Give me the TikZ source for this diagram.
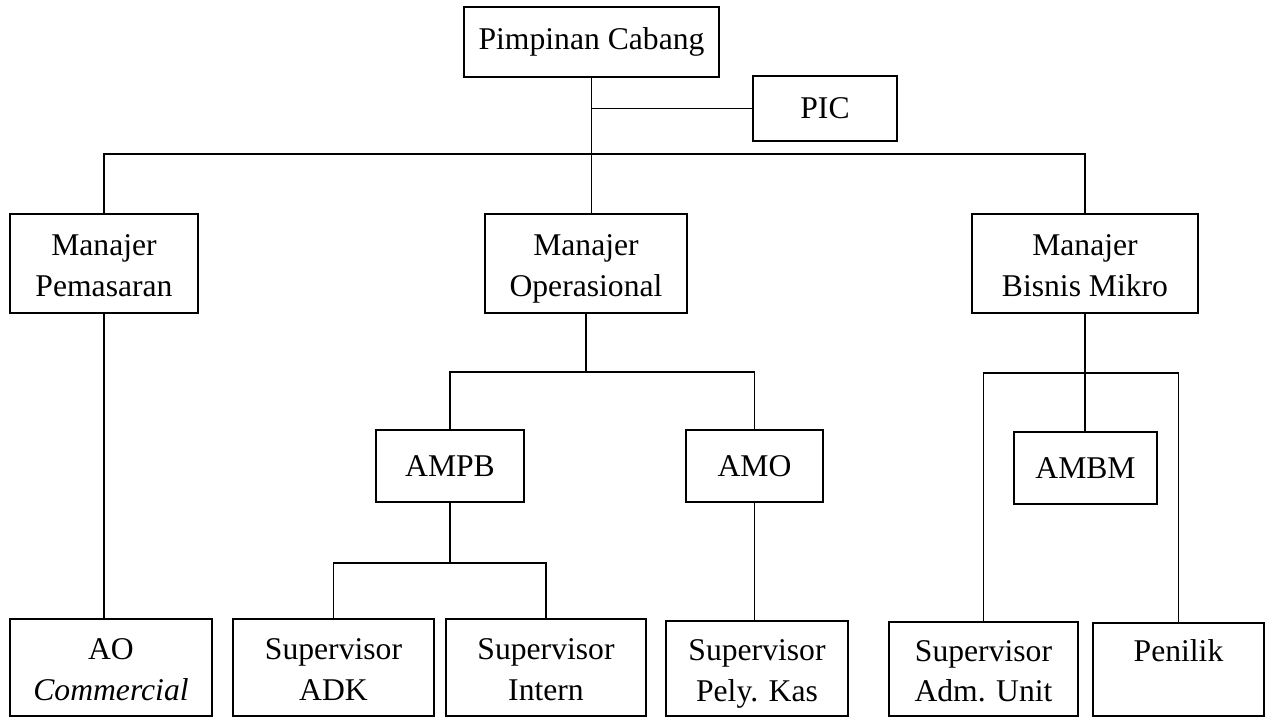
\documentclass[tikz,border=0pt]{standalone}
\usepackage{fontspec}
\setmainfont{Liberation Serif}
\newcommand{\duo}[2]{\rule{0pt}{21pt}#1\\#2\strut}
\tikzset{
  unit/.style={draw, line width=1pt, align=center, inner sep=0pt, font=\fontsize{18}{23}\selectfont},
  link/.style={line width=0.8pt}
}
\begin{document}
\begin{tikzpicture}[x=0.2mm, y=-0.2mm]
	\useasboundingbox (0,0) rectangle (1266,718);
	%%%%% BOXES %%%%%
	\node[unit, minimum width=5.1cm, minimum height=1.4cm] (pc) at (591.5,42) {Pimpinan Cabang};
	\node[unit, minimum width=2.88cm, minimum height=1.3cm] (pic) at (825,108.5) {PIC};
	
	\node[unit, minimum width=3.76cm, minimum height=1.98cm] (mp) at (104,263.5) {\duo{Manajer}{Pemasaran}};
	\node[unit, minimum width=4.04cm, minimum height=1.98cm] (mo) at (586,263.5) {\duo{Manajer}{Operasional}};
	\node[unit, minimum width=4.52cm, minimum height=1.98cm] (mbm) at (1085,263.5) {\duo{Manajer}{Bisnis Mikro}};
	
	\node[unit, minimum width=2.96cm, minimum height=1.44cm] (ampb) at (450,466) {AMPB};
	\node[unit, minimum width=2.74cm, minimum height=1.44cm] (amo) at (754.5,466) {AMO};
	\node[unit, minimum width=2.86cm, minimum height=1.44cm] (ambm) at (1085.5,468) {AMBM};
	
	\node[unit, minimum width=4.04cm, minimum height=1.94cm] (ao) at (111,667.5) {\duo{AO}{\textit{Commercial}}};
	\node[unit, minimum width=4.02cm, minimum height=1.94cm] (adk) at (333.5,667.5) {\duo{Supervisor}{ADK}};
	\node[unit, minimum width=4.0cm, minimum height=1.94cm] (intern) at (546,667.5) {\duo{Supervisor}{Intern}};
	\node[unit, minimum width=3.64cm, minimum height=1.9cm] (kas) at (757,668.5) {\duo{Supervisor}{Pely. Kas}};
	\node[unit, minimum width=3.78cm, minimum height=1.88cm] (adm) at (983.5,669) {\duo{Supervisor}{Adm. Unit}};
	\node[unit, minimum width=3.42cm, minimum height=1.86cm] (penilik) at (1178.5,669.5) {\duo{Penilik}{}};
	
	%%%%% LINES %%%%%
	\coordinate (top) at (pc.south |- 0,154);
	\draw[link] (pc.south) -- (pc.south |- mo.north);
	\draw[link] (pic.west) -- (pic.west -| pc.south);
	\draw[link] (mp.north) |- (top) -| (mbm.north);
	\draw[link] (mp.south) -- (mp.south |- ao.north);
	
	\draw[link] (mo.south) -- (mo.south |- 0,372) coordinate (ops);
	\draw[link] (ampb.north) |- (ops) -| (amo.north);
	\draw[link] (ampb.south) -- (ampb.south |- 0,563) coordinate (pb);
	\draw[link] (adk.north) |- (pb) -| (intern.north);
	\draw[link] (amo.south) -- (amo.south |- kas.north);
	
	\draw[link] (mbm.south) -- (mbm.south |- ambm.north);
	\draw[link] (adm.north) |- (mbm.south |- 0,373) -| (penilik.north);
\end{tikzpicture}
\end{document}
